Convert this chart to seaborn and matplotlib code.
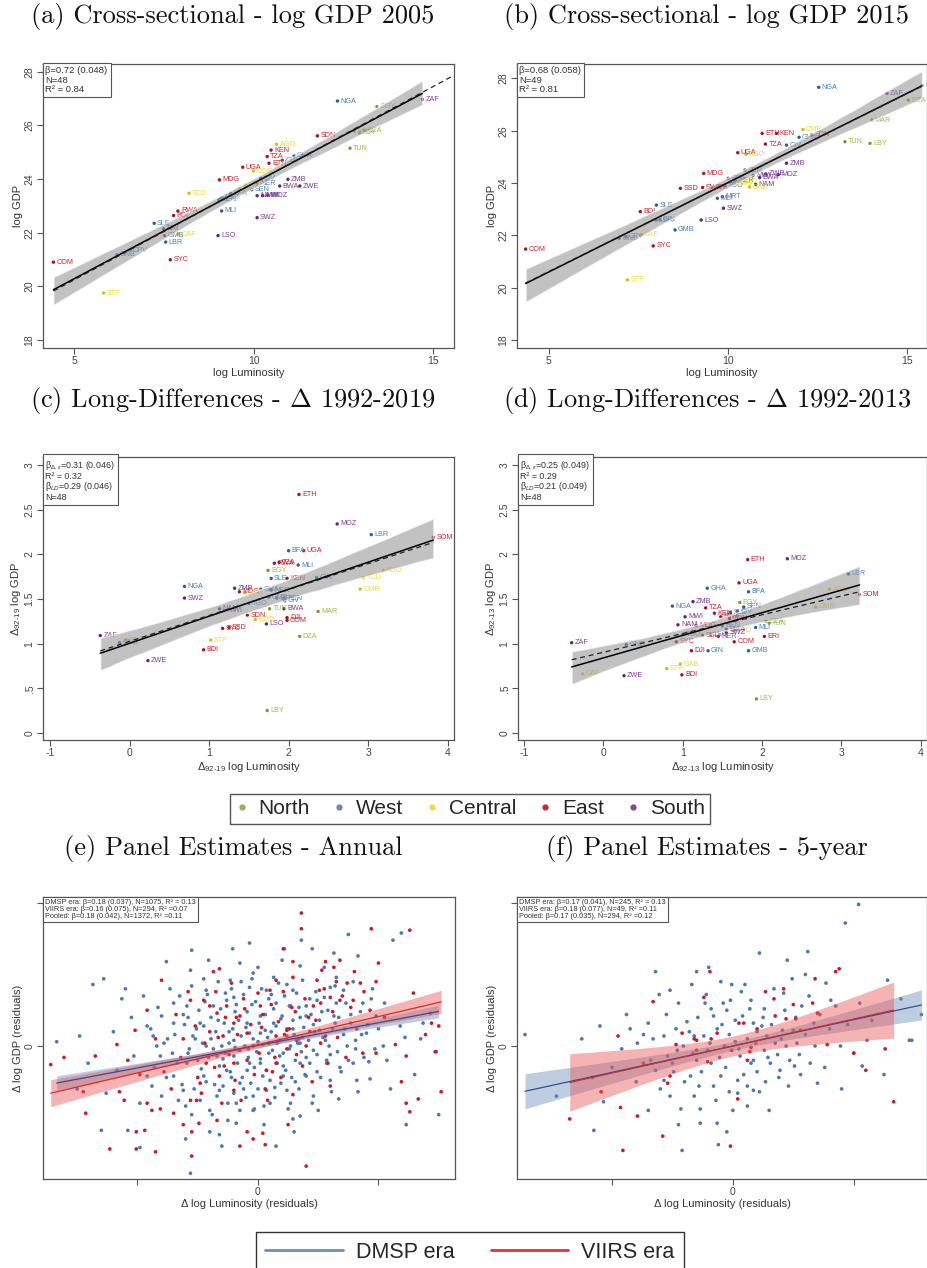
import numpy as np
import pandas as pd
import matplotlib
matplotlib.use("Agg")
import matplotlib.pyplot as plt
import seaborn as sns
from matplotlib.lines import Line2D

# ---------------- data ----------------
region_names = ["North", "West", "Central", "East", "South"]
region_members = {
    "North": ["DZA", "EGY", "LBY", "MAR", "TUN"],
    "West": ["BEN", "BFA", "CIV", "CPV", "GMB", "GHA", "GIN", "GNB", "LBR", "MLI", "MRT",
             "NER", "NGA", "SEN", "SLE", "TGO"],
    "Central": ["AGO", "CMR", "CAF", "TCD", "COG", "COD", "GNQ", "GAB", "STP"],
    "East": ["BDI", "COM", "DJI", "ERI", "ETH", "KEN", "MDG", "MUS", "RWA", "SYC", "SOM",
             "SSD", "SDN", "TZA", "UGA"],
    "South": ["BWA", "LSO", "MWI", "MOZ", "NAM", "ZAF", "SWZ", "ZMB", "ZWE"],
}

# (a) cross-section 2005
a_codes = ["COM", "STP", "GNB", "CPV", "SLE", "ERI", "GMB", "LBR", "SYC", "RWA", "BDI", "TCD",
           "CAF", "LSO", "MDG", "MLI", "BEN", "BFA", "TGO", "UGA", "CMR", "GAB", "SWZ", "NAM",
           "MWI", "MOZ", "SEN", "CIV", "NER", "KEN", "TZA", "ETH", "AGO", "COD", "ZMB", "BWA",
           "ZWE", "GHA", "GIN", "SDN", "NGA", "TUN", "MAR", "DZA", "LBY", "EGY", "ZAF", "COG"]
a_lum = [4.42, 5.82, 6.19, 6.55, 7.23, 7.49, 7.52, 7.55, 7.68, 7.89, 7.77, 8.20, 7.90, 9.01,
         9.05, 9.11, 9.03, 9.36, 9.10, 9.70, 9.78, 9.60, 10.10, 10.10, 10.25, 10.40, 9.95, 10.20,
         10.10, 10.49, 10.38, 10.43, 10.64, 10.66, 10.96, 10.73, 11.29, 11.13, 10.80, 11.78,
         12.34, 12.69, 12.81, 13.10, 12.95, 13.44, 14.71, 10.00]
a_gdp = [20.90, 19.75, 21.17, 21.35, 22.35, 22.14, 21.89, 21.65, 20.99, 22.81, 22.64, 23.47,
         21.95, 21.89, 23.97, 22.81, 23.22, 23.47, 23.30, 24.44, 23.78, 23.65, 22.56, 23.38,
         23.38, 23.40, 23.60, 24.03, 23.85, 25.08, 24.84, 24.59, 25.30, 24.53, 23.99, 23.74,
         23.74, 24.86, 24.70, 25.61, 26.91, 25.15, 25.79, 25.80, 25.72, 26.70, 26.97, 24.30]
a_stats = ["\u03b2=0.72 (0.048)", "N=48", "R\u00b2 = 0.84"]
a_dash = [0.72, 4.42, 15.5]  # slope, x from, x to

# (b) cross-section 2015
b_codes = ["COM", "STP", "SYC", "GNB", "CPV", "CAF", "GMB", "SLE", "BDI", "LBR", "GIN", "LSO",
           "SWZ", "MLI", "MRT", "SSD", "RWA", "MDG", "ERI", "UGA", "ETH", "KEN", "TZA", "GHA",
           "CIV", "CMR", "SDN", "NGA", "TUN", "LBY", "MAR", "ZAF", "EGY", "DZA", "ZMB", "BWA",
           "MOZ", "NAM", "ZWE", "BFA", "SEN", "TCD", "GAB", "AGO", "COD", "NER", "TGO", "COG", "MWI"]
b_lum = [4.35, 7.19, 7.91, 6.96, 7.15, 7.57, 8.52, 8.00, 7.55, 7.99, 8.10, 9.25, 9.87, 9.70,
         9.84, 8.67, 9.29, 9.32, 9.55, 10.27, 10.95, 11.35, 11.04, 11.98, 11.63, 12.09, 12.33,
         12.53, 13.26, 13.96, 14.01, 14.43, 15.41, 15.03, 11.63, 10.88, 11.40, 10.77, 11.05,
         10.00, 10.47, 10.05, 10.60, 10.50, 10.30, 10.20, 9.90, 10.15, 10.70]
b_gdp = [21.48, 20.30, 21.60, 21.89, 21.95, 22.02, 22.21, 23.16, 22.91, 22.59, 22.60, 22.59,
         23.04, 23.42, 23.48, 23.80, 23.83, 24.37, 23.85, 25.16, 25.90, 25.90, 25.49, 25.75,
         25.45, 26.05, 25.84, 27.66, 25.58, 25.52, 26.41, 27.43, 27.74, 27.17, 24.76, 24.21,
         24.32, 23.95, 24.35, 24.18, 24.50, 24.02, 23.85, 25.10, 24.05, 24.10, 23.90, 24.00, 24.30]
b_stats = ["\u03b2=0.68 (0.058)", "N=49", "R\u00b2 = 0.81"]
b_dash = [0.68, 4.35, 15.41]

# (c) long differences 1992-2019
c_codes = ["ETH", "MOZ", "LBR", "SOM", "BFA", "UGA", "RWA", "TZA", "MLI", "EGY", "SLE", "KEN",
           "GIN", "TCD", "AGO", "CMR", "NGA", "SWZ", "ZMB", "MDG", "GAB", "NER", "SEN", "BEN",
           "NAM", "MWI", "TUN", "BWA", "MAR", "SDN", "COD", "DJI", "COM", "LSO", "SYC", "SSD",
           "DZA", "ZAF", "GNB", "CAF", "STP", "BDI", "ZWE", "LBY", "GHA", "CIV", "TGO", "GMB"]
c_lum = [2.13, 2.61, 3.04, 3.82, 2.00, 2.19, 1.82, 1.88, 2.12, 1.74, 1.78, 1.98, 2.35, 2.94,
         3.19, 2.90, 0.69, 0.69, 1.32, 1.38, 1.45, 1.78, 1.85, 1.94, 1.13, 1.19, 1.76, 1.94,
         2.37, 1.48, 1.58, 1.98, 1.98, 1.72, 1.17, 1.25, 2.14, -0.37, -0.13, -0.05, 1.02, 0.93,
         0.23, 1.73, 1.65, 1.95, 1.50, 1.75]
c_gdp = [2.67, 2.34, 2.22, 2.19, 2.04, 2.04, 1.90, 1.91, 1.88, 1.82, 1.73, 1.73, 1.74, 1.74,
         1.82, 1.61, 1.64, 1.51, 1.62, 1.58, 1.57, 1.60, 1.51, 1.51, 1.39, 1.37, 1.39, 1.39,
         1.36, 1.32, 1.27, 1.29, 1.26, 1.22, 1.17, 1.18, 1.08, 1.09, 1.01, 1.04, 1.04, 0.93,
         0.81, 0.25, 1.61, 1.48, 1.45, 1.52]
c_stats = ["\u03b2$_{\u0394,\u03b5}$=0.31 (0.046)", "R\u00b2 = 0.32", "\u03b2$_{LD}$=0.29 (0.046)", "N=48"]
c_dash = [0.29, -0.37, 3.82]

# (d) long differences 1992-2013
d_codes = ["ETH", "MOZ", "LBR", "SOM", "UGA", "GHA", "BFA", "NGA", "ZMB", "TZA", "EGY", "SEN",
           "MWI", "KEN", "RWA", "SDN", "CIV", "AGO", "CMR", "NAM", "MDG", "TUN", "MLI", "BWA",
           "SSD", "NER", "ERI", "COM", "GNB", "ZAF", "SYC", "DJI", "GIN", "GMB", "GAB", "STP",
           "BDI", "ZWE", "LBY", "DZA", "TCD", "CAF", "COD", "SLE", "BEN", "TGO", "LSO", "SWZ"]
d_lum = [1.82, 2.32, 3.09, 3.23, 1.71, 1.31, 1.83, 0.87, 1.13, 1.29, 1.72, 1.77, 1.03, 1.40,
         1.48, 1.59, 1.69, 2.85, 2.68, 0.94, 1.17, 2.09, 1.92, 1.55, 1.25, 1.45, 2.03, 1.65,
         0.29, -0.40, 0.92, 1.11, 1.32, 1.83, 0.97, 0.80, 0.99, 0.26, 1.93, 2.05, 1.65, -0.26,
         1.05, 1.60, 1.50, 1.00, 1.35, 1.55]
d_gdp = [1.94, 1.95, 1.78, 1.55, 1.68, 1.62, 1.58, 1.42, 1.47, 1.40, 1.46, 1.41, 1.30, 1.34,
         1.30, 1.28, 1.36, 1.61, 1.41, 1.21, 1.20, 1.23, 1.18, 1.16, 1.09, 1.08, 1.08, 1.02,
         0.99, 1.01, 1.02, 0.92, 0.92, 0.92, 0.77, 0.72, 0.65, 0.64, 0.38, 1.25, 1.15, 0.66,
         1.12, 1.35, 1.20, 1.10, 1.10, 1.12]
d_stats = ["\u03b2$_{\u0394,\u03b5}$=0.25 (0.049)", "R\u00b2 = 0.29", "\u03b2$_{LD}$=0.21 (0.049)", "N=48"]
d_dash = [0.21, -0.40, 3.23]

# (e) annual panel residuals (x: luminosity residual, y: GDP residual)
e_dmsp_points = [
    (-1.67, 0.03), (-1.48, 0.07), (-1.37, 0.43), (-1.28, 0.47), (-1.13, 0.33), (-1.10, 0.40),
    (-0.95, 0.35), (-1.41, -0.12), (-1.30, -0.59), (-1.08, -0.59), (-0.98, -0.71), (-0.87, 0.07),
    (-0.76, 0.59), (-0.56, 0.53), (-0.55, 0.67), (-0.41, 0.60), (-0.21, 0.68), (-0.07, 0.72),
    (0.22, 0.68), (0.36, 0.74), (0.45, 0.68), (0.63, 0.65), (0.75, 0.78), (0.83, 0.63),
    (1.12, 0.74), (1.19, 0.79), (1.22, 0.06), (1.23, -0.55), (1.37, 0.16), (1.43, 0.23),
    (1.48, -0.04), (1.50, -0.48), (0.29, -0.51), (0.67, -0.37), (0.93, -0.23), (0.79, -0.12),
    (1.07, -0.10), (-0.56, -0.89), (-0.40, -0.60), (-0.32, -0.62), (-0.18, -0.54), (-0.40, -0.45),
    (-0.62, -0.31), (-0.70, -0.21), (-0.81, -0.07), (-0.84, 0.00), (-0.48, 0.16), (-0.37, 0.28),
    (-0.20, 0.34), (-0.07, 0.41), (0.07, 0.39), (0.15, 0.30), (0.27, 0.28), (0.40, 0.21),
    (0.51, 0.11), (0.60, 0.41), (0.71, 0.39), (0.65, 0.48), (0.87, 0.30), (0.98, 0.21),
    (0.46, -0.03), (0.35, -0.12), (0.21, -0.21), (0.07, -0.31), (-0.04, -0.35), (-0.15, -0.26),
    (-0.26, -0.17), (-0.34, -0.07), (-0.20, 0.04), (-0.09, 0.16), (0.02, 0.09), (0.13, 0.16),
    (0.24, 0.07), (0.35, 0.02), (0.18, -0.07), (0.02, -0.12), (-0.09, -0.17), (-0.20, -0.07),
    (-0.43, 0.00), (-0.54, 0.07), (-0.59, -0.12), (-0.45, -0.21), (-0.32, -0.31), (-0.18, -0.40),
    (-0.04, -0.45), (0.10, -0.40), (0.24, -0.31), (0.40, -0.21), (0.57, -0.12), (0.74, 0.00),
    (0.90, 0.09), (1.04, 0.00), (1.18, 0.14), (0.63, 0.21), (0.49, 0.32), (0.29, 0.39),
    (0.13, 0.48), (-0.04, 0.51), (-0.23, 0.46), (-0.43, 0.39), (-0.59, 0.28), (-0.70, 0.16),
    (-0.92, -0.21), (-1.03, -0.07), (-1.17, -0.17), (-1.26, -0.33), (0.27, -0.40), (0.46, -0.35),
    (0.60, -0.24), (0.82, -0.24), (0.35, -0.49),
    (-0.62, 0.22), (-0.58, -0.05), (-0.51, 0.12), (-0.47, -0.16), (-0.44, 0.31), (-0.39, 0.05),
    (-0.36, -0.27), (-0.33, 0.18), (-0.29, -0.09), (-0.27, 0.37), (-0.24, 0.10), (-0.22, -0.22),
    (-0.19, 0.24), (-0.16, -0.03), (-0.14, 0.45), (-0.12, -0.30), (-0.10, 0.13), (-0.07, -0.12),
    (-0.05, 0.29), (-0.03, -0.44), (0.00, 0.03), (0.02, 0.21), (0.04, -0.21), (0.06, 0.11),
    (0.09, -0.05), (0.11, 0.36), (0.14, -0.29), (0.16, 0.02), (0.19, 0.19), (0.21, -0.14),
    (0.24, 0.43), (0.26, -0.02), (0.29, 0.12), (0.31, -0.25), (0.34, 0.27), (0.37, 0.06),
    (0.40, -0.08), (0.43, 0.33), (0.46, 0.15), (0.49, -0.18), (0.53, 0.24), (0.56, 0.04),
    (0.60, -0.06), (0.64, 0.16), (0.68, -0.15), (0.72, 0.12), (0.77, 0.22), (0.81, -0.02),
    (0.86, 0.08), (0.92, -0.11), (-0.70, 0.30), (-0.66, -0.38), (-0.75, 0.05), (-0.80, 0.21),
    (-0.88, -0.28), (-0.92, 0.14), (-0.55, -0.48), (-0.25, -0.52), (0.05, -0.55), (0.30, -0.60),
    (0.55, 0.55), (0.35, 0.56), (-0.15, 0.58), (-0.45, 0.47), (0.95, 0.40), (1.05, 0.30),
    (1.10, -0.30), (1.30, -0.20), (1.35, 0.05), (-1.20, 0.10), (-1.05, 0.20), (-0.98, -0.40),
    (-1.50, -0.30), (-0.60, -0.65), (0.15, -0.70), (0.50, -0.45), (0.65, 0.30), (-0.30, -0.70),
    (0.00, 0.55), (0.20, 0.60),
    (-0.89, 0.12), (-0.86, -0.15), (-0.83, 0.27), (-0.80, -0.35), (-0.78, 0.02), (-0.76, -0.22),
    (-0.73, 0.40), (-0.71, -0.05), (-0.69, 0.08), (-0.67, -0.12), (-0.65, 0.35), (-0.63, -0.27),
    (-0.61, 0.15), (-0.60, -0.42), (-0.58, 0.20), (-0.57, -0.02), (-0.55, 0.42), (-0.53, -0.30),
    (-0.52, 0.05), (-0.50, -0.10), (-0.49, 0.25), (-0.48, -0.38), (-0.46, 0.02), (-0.45, 0.14),
    (-0.43, -0.25), (-0.42, 0.36), (-0.41, -0.08), (-0.39, 0.20), (-0.38, -0.48), (-0.37, -0.02),
    (-0.35, 0.10), (-0.34, -0.35), (-0.33, 0.45), (-0.32, -0.14), (-0.31, 0.26), (-0.30, 0.00),
    (-0.29, -0.28), (-0.28, 0.16), (-0.27, -0.05), (-0.26, 0.32), (-0.25, -0.40), (-0.24, 0.02),
    (-0.23, -0.18), (-0.22, 0.40), (-0.21, 0.12), (-0.20, -0.33), (-0.19, -0.01), (-0.18, 0.29),
    (-0.17, -0.12), (-0.16, 0.18), (-0.15, -0.45), (-0.14, 0.07), (-0.13, -0.22), (-0.12, 0.36),
    (-0.11, 0.00), (-0.10, -0.36), (-0.09, 0.24), (-0.08, -0.08), (-0.07, 0.09), (-0.06, -0.26),
    (-0.05, 0.47), (-0.04, 0.05), (-0.03, -0.15), (-0.02, 0.31), (-0.01, -0.04), (0.00, -0.30),
    (0.01, 0.16), (0.02, -0.09), (0.03, 0.40), (0.04, 0.01), (0.05, -0.42), (0.06, 0.22),
    (0.07, -0.17), (0.08, 0.06), (0.09, 0.33), (0.10, -0.24), (0.11, 0.10), (0.12, -0.03),
    (0.13, 0.26), (0.14, -0.36), (0.15, 0.14), (0.16, -0.12), (0.17, 0.44), (0.18, 0.04),
    (0.19, -0.26), (0.20, 0.21), (0.21, -0.05), (0.22, 0.35), (0.23, -0.17), (0.24, 0.12),
    (0.25, -0.44), (0.26, 0.28), (0.27, 0.00), (0.28, -0.22), (0.29, 0.18), (0.30, 0.08),
    (0.31, -0.10), (0.32, 0.37), (0.33, 0.02), (0.34, -0.30), (0.35, 0.20), (0.36, -0.04),
    (0.37, 0.46), (0.38, 0.13), (0.39, -0.20), (0.40, 0.28), (0.42, 0.04), (0.43, -0.12),
    (0.44, 0.22), (0.45, -0.40), (0.47, 0.10), (0.48, 0.38), (0.49, -0.06), (0.51, 0.18),
    (0.52, -0.22), (0.54, 0.06), (0.55, 0.34), (0.57, -0.10), (0.58, 0.25), (0.59, 0.00),
    (0.61, -0.32), (0.62, 0.12), (0.64, 0.42), (0.66, -0.04), (0.67, 0.20), (0.69, -0.18),
    (0.71, 0.08), (0.73, 0.30), (0.75, -0.10), (0.77, 0.16), (0.79, 0.45), (0.81, 0.04),
    (0.83, -0.32), (0.85, 0.24), (0.88, -0.08), (0.91, 0.15), (0.94, 0.33), (0.97, -0.02),
    (1.00, 0.12),
]
e_viirs_points = [
    (-1.72, -0.13), (-1.61, -0.08), (-1.45, -0.32), (-1.43, -0.47), (-1.35, -0.07), (-1.23, -0.72),
    (-1.17, 0.01), (-1.15, -0.32), (-1.11, -0.38), (-1.02, 0.11), (-1.01, -0.60), (-1.01, -0.72),
    (-0.94, -0.59), (-0.85, -0.74), (-0.80, 0.46), (-0.70, -0.47), (-0.62, -0.55), (-0.55, -0.77),
    (-0.56, -0.38), (-0.49, -0.54), (-0.45, 0.32), (-0.37, 0.52), (-0.32, 0.54), (-0.34, 0.23),
    (-0.26, 0.28), (-0.20, -0.12), (-0.15, -0.70), (-0.09, -0.60), (-0.04, -0.65), (0.06, -0.69),
    (0.04, -0.61), (0.10, 0.39), (0.15, 0.46), (0.21, 0.68), (0.29, 0.48), (0.29, 0.59),
    (0.36, 0.93), (0.36, 0.82), (0.40, -0.84), (0.49, 0.46), (0.56, 0.59), (0.53, 0.53),
    (0.63, 0.55), (0.68, 0.60), (0.79, 0.32), (0.85, 0.44), (0.87, -0.05), (0.94, 0.82),
    (0.98, -0.05), (1.00, 0.58), (1.14, 0.01), (1.19, -0.25), (1.23, -0.07), (1.23, -0.40),
    (1.26, 0.81), (1.26, -0.46), (1.29, 0.37), (1.33, -0.37), (1.39, 0.08), (1.44, 0.16),
    (1.47, -0.04), (1.50, 0.14), (1.52, -0.32), (0.56, 0.07), (0.60, 0.34), (0.46, 0.28),
    (0.24, 0.11), (0.15, 0.07), (-0.04, 0.00), (-0.15, -0.03), (-0.29, 0.07), (-0.43, -0.12),
    (-0.48, -0.26), (-0.32, -0.21), (-0.15, 0.21), (0.02, 0.28), (-0.09, 0.09), (-0.20, 0.16),
    (0.15, -0.12), (0.32, 0.04), (0.40, 0.00), (0.51, 0.39), (0.68, 0.32), (0.74, 0.44),
    (-0.56, 0.32), (-0.51, -0.38), (-0.92, -0.40), (-0.88, -0.45), (-0.81, -0.44), (0.07, -0.17),
    (-0.20, -0.31), (-0.34, -0.52),
    (-0.40, 0.10), (-0.28, -0.14), (-0.18, 0.20), (-0.08, -0.02), (0.03, 0.13), (0.12, -0.18),
    (0.22, 0.08), (0.32, -0.06), (0.42, 0.20), (0.52, 0.30), (-0.50, -0.22), (-0.62, 0.05),
    (0.65, 0.45), (0.80, 0.52), (-0.12, 0.33), (0.08, -0.38), (-0.35, 0.38), (0.28, 0.27),
    (0.60, -0.28), (-0.72, -0.30),
    (-0.85, 0.05), (-0.78, -0.18), (-0.68, 0.22), (-0.64, -0.08), (-0.58, 0.38), (-0.52, 0.14),
    (-0.47, -0.33), (-0.44, 0.02), (-0.40, 0.28), (-0.36, -0.15), (-0.33, 0.06), (-0.30, -0.40),
    (-0.27, 0.20), (-0.24, -0.06), (-0.22, 0.44), (-0.19, -0.24), (-0.17, 0.08), (-0.14, -0.38),
    (-0.11, 0.26), (-0.09, -0.10), (-0.06, 0.15), (-0.03, -0.20), (0.00, 0.37), (0.01, -0.05),
    (0.04, 0.22), (0.06, -0.30), (0.09, 0.02), (0.11, 0.29), (0.14, -0.08), (0.17, 0.17),
    (0.19, -0.22), (0.21, 0.38), (0.24, -0.02), (0.26, 0.12), (0.29, -0.34), (0.31, 0.24),
    (0.34, 0.05), (0.37, -0.14), (0.39, 0.33), (0.43, 0.10), (0.45, -0.25), (0.48, 0.18),
    (0.52, 0.02), (0.55, 0.40), (0.58, -0.12), (0.62, 0.24), (0.66, 0.06), (0.70, 0.35),
    (0.73, -0.08), (0.77, 0.27), (0.82, 0.12), (0.88, 0.38), (0.93, 0.25), (-0.98, -0.20),
    (-1.08, -0.10), (-0.92, 0.25), (0.98, 0.45), (1.05, 0.20), (-0.55, -0.60), (0.25, -0.55),
]
e_fit = {"DMSP era": [0.005, 0.158], "VIIRS era": [0.009, 0.197]}      # intercept, slope
e_band = {"DMSP era": [0.015, 0.0285], "VIIRS era": [0.025, 0.052]}   # half-width centre, growth
e_stats = ["DMSP era: \u03b2=0.18 (0.037), N=1075, R\u00b2 = 0.13",
           "VIIRS era: \u03b2=0.16 (0.075), N=294, R\u00b2 =0.07",
           "Pooled: \u03b2=0.18 (0.042), N=1372, R\u00b2 =0.11"]

# (f) 5-year panel residuals
f_dmsp_points = [
    (-1.72, 0.08), (-1.46, -0.35), (-1.15, -0.59), (-1.10, 0.14), (-1.07, -0.39), (-0.92, -0.02),
    (-0.85, 0.12), (-0.79, 0.02), (-0.74, 0.08), (-0.70, 0.16), (-0.64, 0.52), (-0.61, 0.36),
    (-0.57, -0.24), (-0.52, 0.39), (-0.47, 0.12), (-0.43, -0.44), (-0.42, -0.73), (-0.38, 0.17),
    (-0.34, 0.43), (-0.32, 0.07), (-0.30, 0.52), (-0.28, -0.28), (-0.27, -0.44), (-0.24, 0.07),
    (-0.23, 0.30), (-0.18, 0.26), (-0.16, 0.21), (-0.14, -0.38), (-0.12, -0.69), (-0.10, 0.45),
    (-0.09, 0.15), (-0.05, 0.25), (-0.03, -0.32), (-0.02, 0.32), (-0.01, 0.43), (0.02, 0.03),
    (0.04, -0.24), (0.08, 0.21), (0.10, 0.43), (0.12, -0.28), (0.15, -0.12), (0.17, 0.16),
    (0.19, 0.02), (0.20, -0.18), (0.22, 0.65), (0.24, 0.14), (0.26, 0.26), (0.27, -0.25),
    (0.28, 0.07), (0.31, -0.12), (0.35, 0.02), (0.37, -0.06), (0.41, 0.11), (0.42, 0.37),
    (0.44, 0.00), (0.46, -0.28), (0.49, 0.47), (0.50, 0.11), (0.51, -0.14), (0.55, -0.06),
    (0.57, 0.28), (0.62, 0.66), (0.64, -0.12), (0.70, -0.26), (0.77, 0.44), (0.89, 0.00),
    (0.93, 0.86), (1.00, -0.05), (1.04, 0.99), (1.07, -0.14), (1.25, -0.20), (1.28, 0.46),
    (1.39, 0.33), (1.46, 0.04), (1.48, 0.04), (1.56, 0.22), (1.11, 0.04), (0.81, 0.32),
    (0.15, 0.32), (-0.07, 0.00), (-0.18, -0.12), (-0.46, -0.03), (-0.57, 0.07), (-0.68, -0.10),
    (-0.52, -0.35), (-0.35, -0.21), (-0.21, -0.03), (-0.10, -0.21), (0.06, -0.07), (0.17, -0.31),
    (0.26, -0.03), (0.39, -0.17), (0.53, 0.02), (0.67, 0.16), (-0.30, -0.10), (-0.41, 0.00),
    (-0.49, -0.18), (-0.64, -0.17), (-0.54, -0.07), (-0.32, -0.35), (-0.27, -0.54), (0.04, -0.33),
    (0.12, -0.42), (-0.13, -0.54),
    (-0.66, 0.05), (-0.60, -0.30), (-0.55, 0.22), (-0.50, -0.12), (-0.45, 0.30), (-0.40, -0.25),
    (-0.36, 0.10), (-0.33, -0.05), (-0.29, 0.20), (-0.26, -0.18), (-0.22, 0.36), (-0.19, 0.02),
    (-0.16, -0.28), (-0.13, 0.12), (-0.11, -0.08), (-0.08, 0.30), (-0.06, -0.15), (-0.03, 0.08),
    (0.00, -0.45), (0.02, 0.18), (0.05, -0.02), (0.07, 0.38), (0.09, -0.20), (0.12, 0.05),
    (0.14, 0.26), (0.17, -0.10), (0.20, 0.10), (0.22, -0.32), (0.25, 0.20), (0.29, -0.08),
    (0.32, 0.15), (0.34, 0.40), (0.38, -0.22), (0.40, 0.05), (0.43, 0.25), (0.47, -0.10),
    (0.52, 0.20), (0.56, -0.20), (0.60, 0.08), (0.63, 0.35), (0.68, 0.00), (0.72, 0.22),
    (0.76, -0.15), (0.80, 0.12), (0.85, 0.28), (0.95, 0.15), (1.05, 0.30), (1.15, 0.18),
    (-0.80, -0.25), (-0.88, 0.22), (-1.00, -0.15), (-1.25, 0.05), (-0.70, -0.45), (-0.45, -0.55),
    (0.30, -0.45), (0.60, 0.50), (0.90, -0.30), (-0.20, 0.55), (0.45, 0.60), (-0.05, -0.60),
]
f_viirs_points = [
    (-1.35, -0.51), (-1.16, -0.22), (-1.09, -0.32), (-0.95, 0.07), (-0.93, -0.43), (-0.91, -0.73),
    (-0.79, -0.49), (-0.66, 0.31), (-0.58, -0.63), (-0.52, -0.21), (-0.47, 0.01), (-0.42, 0.09),
    (-0.32, 0.05), (-0.30, 0.04), (-0.24, 0.34), (-0.21, -0.11), (-0.19, 0.52), (-0.18, 0.05),
    (-0.02, -0.70), (-0.01, -0.03), (0.04, -0.37), (0.05, 0.16), (0.09, 0.16), (0.14, -0.04),
    (0.15, -0.01), (0.20, 0.12), (0.27, 0.38), (0.34, 0.33), (0.35, 0.21), (0.42, 0.40),
    (0.44, 0.19), (0.50, 0.29), (0.52, 0.19), (0.66, 0.30), (0.68, 0.47), (0.78, 0.01),
    (0.85, 0.52), (0.88, 0.54), (1.00, -0.05), (1.10, -0.17), (1.26, -0.02), (1.33, -0.39),
    (0.70, 0.23), (-0.30, -0.03), (-0.13, 0.09), (0.12, -0.10), (-0.54, -0.26), (-0.74, -0.12),
    (0.56, 0.11),
]
f_fit = {"DMSP era": [0.0, 0.184], "VIIRS era": [0.0, 0.189]}
f_band = {"DMSP era": [0.03, 0.067], "VIIRS era": [0.07, 0.139]}
f_stats = ["DMSP era: \u03b2=0.17 (0.041), N=245, R\u00b2 = 0.13",
           "VIIRS era: \u03b2=0.18 (0.077), N=49, R\u00b2 =0.11",
           "Pooled: \u03b2=0.17 (0.035), N=294, R\u00b2 =0.12"]

titles = ["(a) Cross-sectional - log GDP 2005", "(b) Cross-sectional - log GDP 2015",
          "(c) Long-Differences - $\\Delta$ 1992-2019", "(d) Long-Differences - $\\Delta$ 1992-2013",
          "(e) Panel Estimates - Annual", "(f) Panel Estimates - 5-year"]
era_names = ["DMSP era", "VIIRS era"]

# ---------------- style ----------------
sns.set_theme(style="ticks")
plt.rcParams["font.family"] = ["Liberation Sans", "DejaVu Sans"]
plt.rcParams["mathtext.fontset"] = "custom"
plt.rcParams["mathtext.rm"] = "Liberation Sans"
plt.rcParams["mathtext.it"] = "Liberation Sans:italic"
plt.rcParams["mathtext.bf"] = "Liberation Sans:bold"
plt.rcParams["axes.unicode_minus"] = False

label_colors = {"North": "#9dbd3c", "West": "#4a7cc0", "Central": "#eedc2a",
                "East": "#d2202e", "South": "#7d3c98"}
dot_colors = {"North": "#7b9a2a", "West": "#2f5c9c", "Central": "#d1bf18",
              "East": "#aa1020", "South": "#5c2878"}
legend_dot_colors = {"North": "#94b05a", "West": "#6f88b2", "Central": "#f0dc3c",
                     "East": "#c22a36", "South": "#7a4f8a"}
pt_colors = {"DMSP era": "#4a78b2", "VIIRS era": "#cc1a2c"}
band_colors = {"DMSP era": "#6f90bc", "VIIRS era": "#e95858"}
line_colors = {"DMSP era": "#2f4f9a", "VIIRS era": "#d02c2c"}
legend_line_colors = {"DMSP era": "#6d8ec0", "VIIRS era": "#d9383a"}
region_of = {c: r for r, cs in region_members.items() for c in cs}

W, H = 928, 1268
fig = plt.figure(figsize=(W / 100, H / 100), dpi=100)


def add_ax(l, t, r, b):
    return fig.add_axes([l / W, 1 - b / H, (r - l) / W, (b - t) / H])


def style_ax(ax):
    for s in ax.spines.values():
        s.set_visible(True)
        s.set_color("#555555")
        s.set_linewidth(0.9)
    ax.tick_params(direction="out", length=4, width=0.8, colors="#555555",
                   labelcolor="#444444", labelsize=7.5, pad=2)


def stat_box(ax, lines, size, spacing):
    ax.text(0.006, 0.992, "\n".join(lines), transform=ax.transAxes, ha="left", va="top",
            fontsize=size, color="#333333", linespacing=spacing, zorder=10,
            bbox=dict(boxstyle="square,pad=0.3", fc="white", ec="#555555", lw=0.8))


def country_panel(ax, codes, xs, ys, dash, stats, xlim, ylim, xticks, yticks, yticklabels,
                  xlabel, ylabel):
    df = pd.DataFrame({"code": codes, "x": xs, "y": ys})
    df["region"] = df["code"].map(region_of)
    sns.scatterplot(data=df, x="x", y="y", hue="region", palette=dot_colors, s=6,
                    linewidth=0, legend=False, ax=ax, zorder=2)
    for _, row in df.iterrows():
        ax.annotate(row.code, (row.x, row.y), xytext=(2.2, 0), textcoords="offset points",
                    fontsize=5.2, color=label_colors[row.region], va="center", ha="left",
                    zorder=2)
    sns.regplot(data=df, x="x", y="y", scatter=False, ci=95, n_boot=1000, seed=3,
                color="black", line_kws={"lw": 1.1, "zorder": 5}, ax=ax)
    for coll in ax.collections[1:]:
        coll.set_facecolor("#9a9a9a")
        coll.set_alpha(0.6)
        coll.set_zorder(4)
    slope, x0, x1 = dash
    xd = np.linspace(x0, x1, 50)
    ax.plot(xd, df.y.mean() + slope * (xd - df.x.mean()), ls=(0, (4, 3)), color="#222222",
            lw=0.9, zorder=6)
    ax.set_xlim(*xlim)
    ax.set_ylim(*ylim)
    ax.set_xticks(xticks)
    ax.set_xticklabels([str(t) for t in xticks])
    ax.set_yticks(yticks)
    ax.set_yticklabels(yticklabels, rotation=90, va="center")
    ax.set_xlabel(xlabel, fontsize=8, color="#333333", labelpad=1)
    ax.set_ylabel(ylabel, fontsize=8, color="#333333", labelpad=1.5)
    style_ax(ax)
    stat_box(ax, stats, 6.8 if len(stats) == 3 else 6.4, 1.05 if len(stats) == 3 else 0.98)


def era_panel(ax, dmsp_pts, viirs_pts, fits, bands, stats, xlim, ylim):
    frames = []
    for era, pts in zip(era_names, (dmsp_pts, viirs_pts)):
        arr = np.array(pts)
        frames.append(pd.DataFrame({"x": arr[:, 0], "y": arr[:, 1], "era": era}))
    df = pd.concat(frames, ignore_index=True)
    sns.scatterplot(data=df, x="x", y="y", hue="era", palette=pt_colors, s=7, linewidth=0,
                    legend=False, ax=ax, zorder=2)
    curves = {}
    for era in era_names:
        sub = df[df.era == era]
        b0, b1 = fits[era]
        c, k = bands[era]
        xs = np.linspace(sub.x.min(), sub.x.max(), 200)
        yh = b0 + b1 * xs
        half = np.sqrt(c ** 2 + (k * (xs - sub.x.mean())) ** 2)
        ax.fill_between(xs, yh - half, yh + half, color=band_colors[era], alpha=0.45, lw=0,
                        zorder=3)
        curves[era] = (xs, yh)
    for era in era_names:
        xs, yh = curves[era]
        ax.plot(xs, yh, color=line_colors[era], lw=0.9, zorder=4)
    ax.set_xlim(*xlim)
    ax.set_ylim(*ylim)
    ax.set_xticks([-1, 0, 1])
    ax.set_xticklabels(["", "0", ""])
    ax.set_yticks([0, 1])
    ax.set_yticklabels(["0", ""], rotation=90, va="center")
    ax.set_xlabel("\u0394 log Luminosity (residuals)", fontsize=8, color="#333333", labelpad=1)
    ax.set_ylabel("\u0394 log GDP (residuals)", fontsize=8, color="#333333", labelpad=1.5)
    style_ax(ax)
    stat_box(ax, stats, 5.3, 1.0)


# ---------------- panels ----------------
ax_a = add_ax(43, 64, 454, 348)
country_panel(ax_a, a_codes, a_lum, a_gdp, a_dash, a_stats, (4.13, 15.59), (17.70, 28.29),
              [5, 10, 15], [18, 20, 22, 24, 26, 28], ["18", "20", "22", "24", "26", "28"],
              "log Luminosity", "log GDP")
ax_b = add_ax(517, 64, 927, 348)
country_panel(ax_b, b_codes, b_lum, b_gdp, b_dash, b_stats, (4.11, 15.55), (17.70, 28.55),
              [5, 10, 15], [18, 20, 22, 24, 26, 28], ["18", "20", "22", "24", "26", "28"],
              "log Luminosity", "log GDP")
ld_yt = [0, 0.5, 1, 1.5, 2, 2.5, 3]
ld_yl = ["0", ".5", "1", "1.5", "2", "2.5", "3"]
ax_c = add_ax(43, 457, 454, 740)
country_panel(ax_c, c_codes, c_lum, c_gdp, c_dash, c_stats, (-1.09, 4.08), (-0.08, 3.09),
              [-1, 0, 1, 2, 3, 4], ld_yt, ld_yl,
              "\u0394$_{92\u201019}$ log Luminosity", "\u0394$_{92\u201019}$ log GDP")
ax_d = add_ax(518, 457, 927, 740)
country_panel(ax_d, d_codes, d_lum, d_gdp, d_dash, d_stats, (-1.076, 4.08), (-0.08, 3.09),
              [-1, 0, 1, 2, 3, 4], ld_yt, ld_yl,
              "\u0394$_{92\u201013}$ log Luminosity", "\u0394$_{92\u201013}$ log GDP")
ax_e = add_ax(43, 897, 455, 1179)
era_panel(ax_e, e_dmsp_points, e_viirs_points, e_fit, e_band, e_stats, (-1.784, 1.635),
          (-0.93, 1.042))
ax_f = add_ax(517, 897, 927, 1179)
era_panel(ax_f, f_dmsp_points, f_viirs_points, f_fit, f_band, f_stats, (-1.786, 1.606),
          (-0.93, 1.042))

# ---------------- titles ----------------
title_pos = [(233, 17), (707, 17), (233, 401), (707, 401), (233, 848), (707, 848)]
for t, (px, py) in zip(titles, title_pos):
    fig.text(px / W, 1 - py / H, t, fontfamily="cmr10", math_fontfamily="cm", fontsize=19,
             ha="center", va="center", color="#111111")

# ---------------- legends ----------------
reg_handles = [Line2D([0], [0], marker="o", ls="", color=legend_dot_colors[r], markersize=3.5)
               for r in region_names]
leg1 = fig.legend(reg_handles, region_names, loc="center", bbox_to_anchor=(470 / W, 1 - 809 / H),
                  ncol=5, fontsize=15, frameon=True, fancybox=False, edgecolor="#555555",
                  framealpha=1, handlelength=0.6, handletextpad=0.5, columnspacing=1.1,
                  borderpad=0.25, borderaxespad=0)
leg1.get_frame().set_linewidth(1.0)

era_handles = [Line2D([0], [0], color=legend_line_colors[e], lw=2) for e in era_names]
leg2 = fig.legend(era_handles, era_names, loc="upper center",
                  bbox_to_anchor=(470 / W, 1 - 1232 / H), ncol=2, fontsize=15.5, frameon=True,
                  fancybox=False, edgecolor="#333333", framealpha=1, handlelength=3.6,
                  handletextpad=0.6, columnspacing=1.7, borderpad=0.45, borderaxespad=0)
leg2.get_frame().set_linewidth(1.0)

fig.savefig("out.png", dpi=100)
